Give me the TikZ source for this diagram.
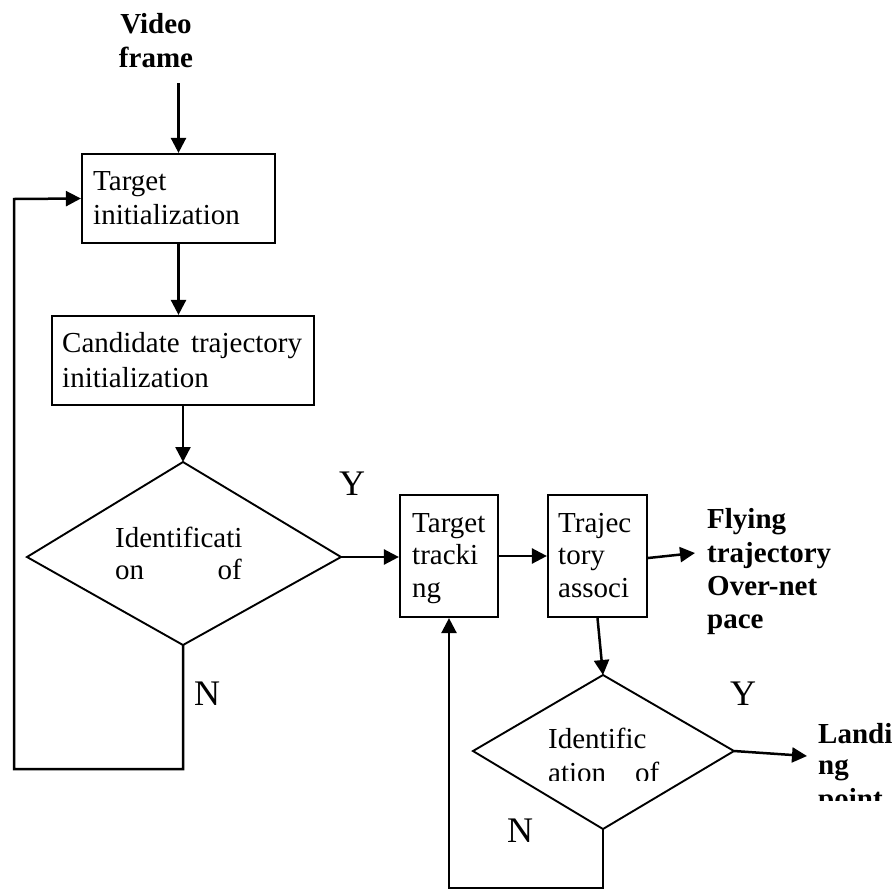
\documentclass[tikz,border=0pt]{standalone}
\usepackage{fontspec}
\setmainfont{Liberation Serif}
\usetikzlibrary{arrows.meta}
\tikzset{
  txt/.style={inner sep=0pt, anchor=base west, font=\fontsize{29}{34}\selectfont},
  btxt/.style={txt, font=\fontsize{29}{34}\selectfont\bfseries},
  yn/.style={inner sep=0pt, anchor=base, font=\fontsize{36}{40}\selectfont},
  boxs/.style={draw, line width=2.2pt, inner sep=0pt},
  shp/.style={line width=1.9pt, line join=miter},
  arr/.style={line width=2.5pt, -{Triangle[length=15pt,width=15pt]}}
}
\begin{document}
\begin{tikzpicture}[x=1pt,y=-1pt]
\useasboundingbox (0,0) rectangle (893,889);

% boxes
\node[boxs, minimum width=193pt, minimum height=89pt] (b1) at (178.5,198.5) {};
\node[boxs, minimum width=262pt, minimum height=89pt] (b2) at (183,360.5) {};
\node[boxs, minimum width=98pt, minimum height=122pt] (b3) at (449,556) {};
\node[boxs, minimum width=99pt, minimum height=122pt] (b4) at (597.5,556) {};

% diamonds
\coordinate (d1t) at (183,462);
\coordinate (d1l) at (27,557);
\coordinate (d1r) at (341,557);
\coordinate (d1b) at (183,645);
\draw[shp] (d1t) -- (d1r) -- (d1b) -- (d1l) -- cycle;
\coordinate (d2t) at (603,675);
\coordinate (d2l) at (473,751);
\coordinate (d2r) at (734,751);
\coordinate (d2b) at (603,829);
\draw[shp] (d2t) -- (d2r) -- (d2b) -- (d2l) -- cycle;

% texts
\node[btxt, anchor=base] (vf1) at (156,33) {Video};
\node[btxt, anchor=base] (vf2) at (156,67) {frame};
\coordinate (vfend) at (178.5,83);

\node[txt] (b1a) at (93,190) {Target};
\node[txt] (b1b) at (93,224) {initialization};
\node[txt] (b2a) at (62,352) {Candidate\hspace{4pt} trajectory};
\node[txt] (b2b) at (62,387) {initialization};

\node[txt] (d1a) at (115,547) {Identificati};
\node[txt] (d1c) at (115,579) {on};
\node[txt, anchor=base east] (d1d) at (242,579) {of};

\node[txt] (b3a) at (412,532) {Target};
\node[txt] (b3b) at (412,564) {tracki};
\node[txt] (b3c) at (412,597) {ng};
\node[txt] (b4a) at (558,532) {Trajec};
\node[txt] (b4b) at (558,564) {tory};
\node[txt] (b4c) at (558,597) {associ};

\node[btxt] (f1) at (707,528) {Flying};
\node[btxt] (f2) at (707,562) {trajectory};
\node[btxt] (f3) at (707,595) {Over-net};
\node[btxt] (f4) at (707,628) {pace};
\coordinate (fly) at (695,553);

\node[txt] (d2a) at (548,748) {Identific};
\begin{scope}
\clip (540,755) rectangle (670,780);
\node[txt] (d2c) at (548,782) {ation};
\node[txt] (d2d) at (635,782) {of};
\end{scope}

\node[btxt] (l1) at (818,743) {Landi};
\node[btxt] (l2) at (818,774) {ng};
\begin{scope}
\clip (810,780) rectangle (893,800);
\node[btxt] (l3) at (818,808) {point};
\end{scope}
\coordinate (land) at (807,756);

\node[yn] (y1) at (352,495) {Y};
\node[yn] (y2) at (743,705) {Y};
\node[yn] (n1) at (207,705) {N};
\node[yn] (n2) at (520,842) {N};

% connectors
\draw[arr] (vfend) -- (b1.north);
\draw[arr] (b1.south) -- (b1.south |- b2.north);
\draw[arr] (b2.south) -- (d1t);
\draw[arr] (d1r) -- (b3.west |- d1r);
\draw[arr] (b3.east) -- (b4.west);
\draw[arr] ([yshift=-2pt]b4.east) -- (fly);
\draw[arr] (b4.south) -- (d2t);
\draw[arr] (d2r) -- (land);
\draw[arr] (d1b) -- ++(0,124) -| (14,199) -- (b1.west);
\draw[arr] (d2b) -- ++(0,59) -| (b3.south);
\end{tikzpicture}
\end{document}
